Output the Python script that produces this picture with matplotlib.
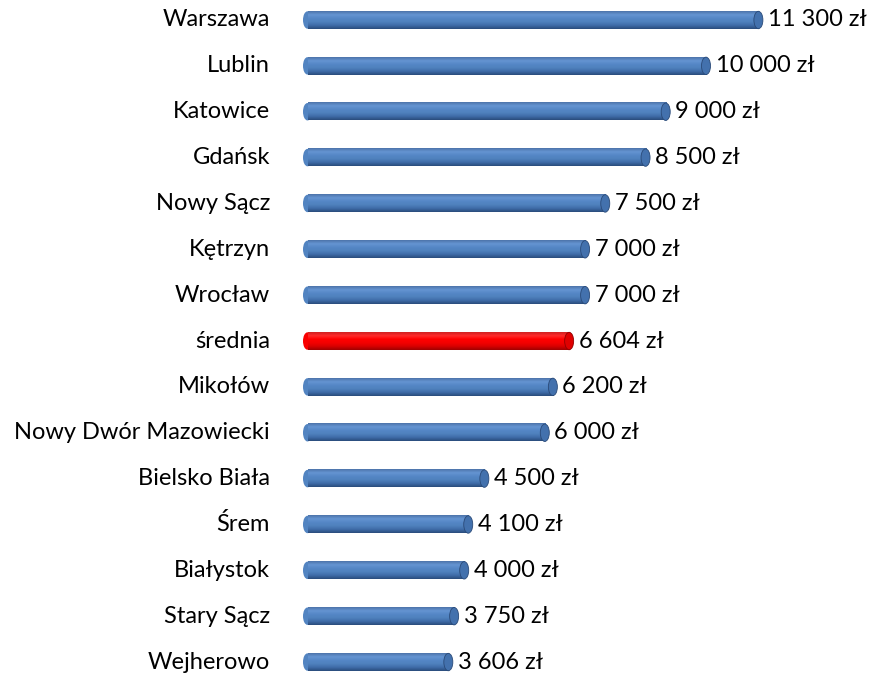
import matplotlib
matplotlib.use("Agg")
import matplotlib.pyplot as plt
import numpy as np
from matplotlib.colors import LinearSegmentedColormap
from matplotlib.patches import Ellipse

cities = ["Warszawa", "Lublin", "Katowice", "Gdańsk", "Nowy Sącz", "Kętrzyn", "Wrocław",
          "średnia", "Mikołów", "Nowy Dwór Mazowiecki", "Bielsko Biała", "Śrem",
          "Białystok", "Stary Sącz", "Wejherowo"]
values = [11300, 10000, 9000, 8500, 7500, 7000, 7000, 6604, 6200, 6000, 4500, 4100, 4000, 3750, 3606]
highlight = "średnia"

plt.rcParams['font.family'] = ['Lato', 'DejaVu Sans']

W, H = 871, 679
fig = plt.figure(figsize=(W / 100, H / 100), dpi=100)
ax_left = 303
ax = fig.add_axes([ax_left / W, 0, (W - ax_left) / W, 1])
scale = 0.0403  # px per unit
xmax = (W - ax_left) / scale
spacing = 45.86
top = 20
ax.set_xlim(0, xmax)
ax.set_ylim((H - top) / spacing, -top / spacing)
ax.axis('off')

blue = LinearSegmentedColormap.from_list("b", ["#4d74aa", "#6594d2", "#5587c6", "#4f81bd", "#3f6ca8", "#2a4c7c"])
red = LinearSegmentedColormap.from_list("r", ["#d02020", "#ff2a2a", "#ff0000", "#f40000", "#d80000", "#a00000"])
grad = np.linspace(0, 1, 64).reshape(-1, 1)

bh = 0.38
cap_w = 9 / scale
ys = np.arange(len(cities))
bars = ax.barh(ys, values, height=bh, color='none', edgecolor='none')
for y, v, c, b in zip(ys, values, cities, bars):
    cm = red if c == highlight else blue
    edge = "#900000" if c == highlight else "#2a4a78"
    ax.add_patch(Ellipse((cap_w / 2, y), cap_w, bh, facecolor=cm(0.5), edgecolor='none', zorder=1))
    ax.imshow(grad, cmap=cm, aspect='auto', extent=[cap_w / 2, v, y + bh / 2, y - bh / 2],
              zorder=2, interpolation='bilinear')
    ax.add_patch(Ellipse((v, y), cap_w, bh, facecolor=cm(0.75), edgecolor=edge, lw=0.6, zorder=3))
    label = f"{v:,}".replace(",", " ") + " zł"
    ax.text(v + cap_w / 2 + 5 / scale, y, label, va='center', ha='left', fontsize=17, color='black')
    ax.text(-33 / scale, y, c, va='center', ha='right', fontsize=17, color='black', clip_on=False)

ax.set_xlim(0, xmax)
ax.set_ylim((H - top) / spacing, -top / spacing)
fig.savefig("out.png", dpi=100)
